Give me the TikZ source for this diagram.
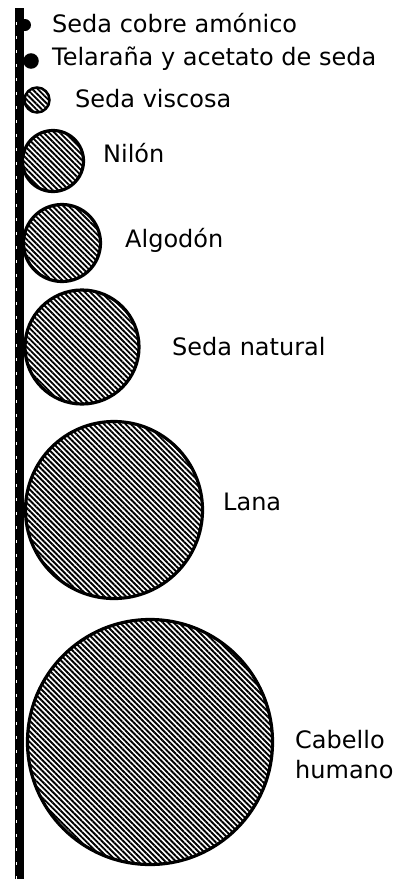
\documentclass[tikz,border=0pt]{standalone}
\usepackage{fontspec}
\setmainfont{DejaVu Sans}
\usetikzlibrary{patterns.meta}
\begin{document}
\begin{tikzpicture}[x=1pt,y=-1pt,
  fiber/.style={circle,draw=black,line width=3.2pt,inner sep=0pt,
    pattern={Lines[angle=-45,distance=3.8pt,line width=1.9pt]},pattern color=black},
  lbl/.style={anchor=base west,inner sep=0pt,font=\fontsize{24}{30}\selectfont}]
\useasboundingbox (0,0) rectangle (400,879);
% vertical bar
\coordinate (bartop) at (19.5,8);
\coordinate (barbot) at (19.5,879);
\draw[line width=9pt] (bartop) -- (barbot);
\draw[white,line width=1pt,dash pattern=on 3pt off 11pt] (16.5,22) -- (16.5,879);
% fibres
\node[circle,fill=black,inner sep=0pt,minimum size=12pt] (cobre) at (25,25) {};
\node[fiber,line width=2.5pt,fill=black,minimum size=13pt] (tela) at (31,61) {};
\node[fiber,line width=2.5pt,minimum size=25pt] (visc) at (37,100) {};
\node[fiber,minimum size=61pt] (nilon) at (53,161) {};
\node[fiber,minimum size=77pt] (algo) at (62,243) {};
\node[fiber,minimum size=114pt] (snat) at (82,347) {};
\node[fiber,minimum size=177pt] (lana) at (114,510) {};
\node[fiber,minimum size=245pt] (cab) at (150,742) {};
% labels
\node[lbl] (tcobre) at (52,32) {Seda cobre amónico};
\node[lbl] (ttela) at (52,65) {Telaraña y acetato de seda};
\node[lbl] (tvisc) at (75,107) {Seda viscosa};
\node[lbl] (tnilon) at (103,162) {Nilón};
\node[lbl] (talgo) at (125,247) {Algodón};
\node[lbl] (tsnat) at (172,355) {Seda natural};
\node[lbl] (tlana) at (223,510) {Lana};
\node[anchor=north west,inner sep=0pt,align=left,font=\fontsize{24}{30}\selectfont] (tcab) at (295,730) {Cabello\\humano};
\end{tikzpicture}
\end{document}
